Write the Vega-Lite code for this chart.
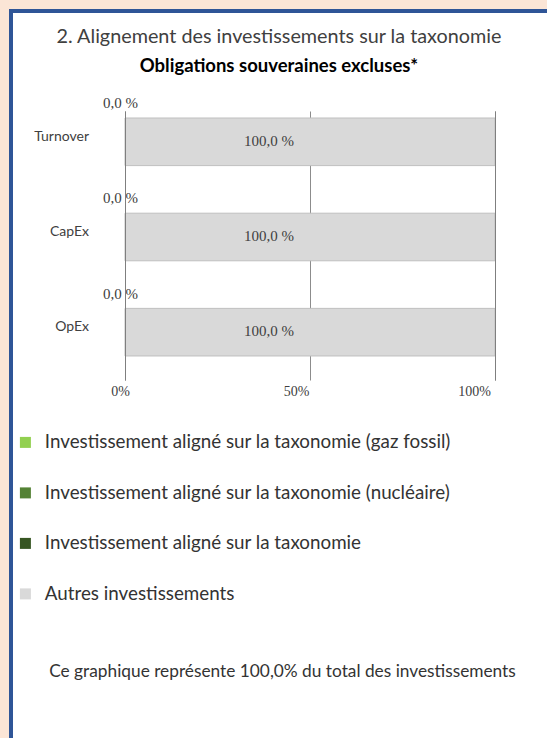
{
  "$schema": "https://vega.github.io/schema/vega-lite/v6.json",
  "width": 536,
  "height": 727,
  "autosize": "none",
  "padding": {"left": 11, "top": 11, "right": 0, "bottom": 0},
  "background": "#fbe5d6",
  "title": {
    "text": "2. Alignement des investissements sur la taxonomie",
    "subtitle": "Obligations souveraines excluses*",
    "anchor": "middle",
    "frame": "group",
    "offset": -64,
    "font": "Lato",
    "fontSize": 19.8,
    "fontWeight": "normal",
    "color": "#404040",
    "subtitleFont": "Lato",
    "subtitleFontSize": 18.5,
    "subtitleFontWeight": "bold",
    "subtitleColor": "#000000",
    "subtitlePadding": 10
  },
  "data": {
    "values": [
      {"cat": "Turnover", "type": "Investissement aligné sur la taxonomie (gaz fossil)", "value": 0},
      {"cat": "Turnover", "type": "Investissement aligné sur la taxonomie (nucléaire)", "value": 0},
      {"cat": "Turnover", "type": "Investissement aligné sur la taxonomie", "value": 0},
      {"cat": "Turnover", "type": "Autres investissements", "value": 100},
      {"cat": "CapEx", "type": "Investissement aligné sur la taxonomie (gaz fossil)", "value": 0},
      {"cat": "CapEx", "type": "Investissement aligné sur la taxonomie (nucléaire)", "value": 0},
      {"cat": "CapEx", "type": "Investissement aligné sur la taxonomie", "value": 0},
      {"cat": "CapEx", "type": "Autres investissements", "value": 100},
      {"cat": "OpEx", "type": "Investissement aligné sur la taxonomie (gaz fossil)", "value": 0},
      {"cat": "OpEx", "type": "Investissement aligné sur la taxonomie (nucléaire)", "value": 0},
      {"cat": "OpEx", "type": "Investissement aligné sur la taxonomie", "value": 0},
      {"cat": "OpEx", "type": "Autres investissements", "value": 100}
    ]
  },
  "layer": [
    {
      "transform": [{"filter": "datum.value > 0"}],
      "mark": {"type": "bar", "stroke": "#bfbfbf", "strokeWidth": 1},
      "encoding": {
        "y": {
          "field": "cat", "type": "nominal", "sort": ["Turnover", "CapEx", "OpEx"],
          "scale": {"range": [100, 369], "paddingInner": 0.5, "paddingOuter": 0.163, "align": 0.226},
          "axis": null
        },
        "x": {
          "field": "value", "type": "quantitative", "stack": "zero",
          "scale": {"domain": [0, 100], "range": [114, 484], "nice": false},
          "axis": {"orient": "top", "values": [0, 50, 100], "grid": true, "gridColor": "#8c8c8c", "gridWidth": 1, "domain": false, "ticks": false, "labels": false, "title": null, "zindex": 0}
        },
        "color": {
          "field": "type", "type": "nominal",
          "scale": {
            "domain": ["Investissement aligné sur la taxonomie (gaz fossil)", "Investissement aligné sur la taxonomie (nucléaire)", "Investissement aligné sur la taxonomie", "Autres investissements"],
            "range": ["#92d050", "#548235", "#375623", "#d9d9d9"]
          },
          "legend": {
            "orient": "none", "legendX": 5, "legendY": 422, "direction": "vertical", "title": null,
            "symbolType": "square", "symbolSize": 121, "symbolStrokeWidth": 0, "symbolOpacity": 1,
            "labelFont": "Lato", "labelFontSize": 18.8, "labelColor": "#333333", "labelOffset": 10,
            "labelLimit": 600, "rowPadding": 30.5, "padding": 0
          }
        }
      }
    },
    {
      "transform": [
        {"filter": "datum.type === 'Autres investissements'"},
        {"calculate": "replace(format(datum.value, '.1f'), '.', ',') + ' %'", "as": "label"},
        {"calculate": "datum.value / 2", "as": "mid"}
      ],
      "mark": {"type": "text", "font": "Liberation Serif", "fontSize": 15, "color": "#404040", "dx": -41, "dy": -1},
      "encoding": {
        "y": {"field": "cat", "type": "nominal", "sort": ["Turnover", "CapEx", "OpEx"], "axis": null},
        "x": {
          "field": "mid", "type": "quantitative",
          "axis": {
            "orient": "bottom", "offset": -358, "values": [0, 50, 100], "grid": false, "domain": false, "ticks": false,
            "labelExpr": "datum.value + '%'", "labelFont": "Liberation Serif", "labelFontSize": 14, "labelColor": "#404040",
            "labelPadding": 4, "labelFlush": false,
            "labelOffset": {"condition": [{"test": "datum.value === 0", "value": -5}, {"test": "datum.value === 100", "value": -21}], "value": -14},
            "title": "Ce graphique représente 100,0% du total des investissements",
            "titleFont": "Lato", "titleFontSize": 17.3, "titleFontWeight": "normal", "titleColor": "#333333",
            "titleX": 271, "titleY": 291, "titleBaseline": "middle", "titleAlign": "center"
          }
        },
        "text": {"field": "label", "type": "nominal"}
      }
    },
    {
      "transform": [
        {"filter": "datum.type === 'Investissement aligné sur la taxonomie'"},
        {"calculate": "replace(format(datum.value, '.1f'), '.', ',') + ' %'", "as": "label"}
      ],
      "mark": {"type": "text", "font": "Liberation Serif", "fontSize": 15, "color": "#404040", "dx": -4.5, "dy": -38.5},
      "encoding": {
        "y": {"field": "cat", "type": "nominal", "sort": ["Turnover", "CapEx", "OpEx"], "axis": null},
        "x": {
          "field": "value", "type": "quantitative",
          "axis": {"orient": "top", "values": [0, 100], "grid": true, "gridColor": "#7f7f7f", "gridWidth": 1, "domain": false, "ticks": false, "labels": false, "title": null, "zindex": 1}
        },
        "text": {"field": "label", "type": "nominal"}
      }
    },
    {
      "transform": [
        {"filter": "datum.type === 'Investissement aligné sur la taxonomie'"}
      ],
      "mark": {"type": "text", "font": "Lato", "fontSize": 14, "color": "#404040", "align": "right", "baseline": "middle", "dx": -36, "dy": -5},
      "encoding": {
        "y": {"field": "cat", "type": "nominal", "sort": ["Turnover", "CapEx", "OpEx"], "axis": null},
        "x": {"field": "value", "type": "quantitative", "axis": null},
        "text": {"field": "cat", "type": "nominal"}
      }
    }
  ],
  "resolve": {"axis": {"x": "independent"}},
  "config": {
    "font": "Lato",
    "view": {"fill": "#ffffff", "stroke": "#2f5597", "strokeWidth": 4, "strokeDash": [536, 1263, 727], "strokeCap": "square"}
  }
}
